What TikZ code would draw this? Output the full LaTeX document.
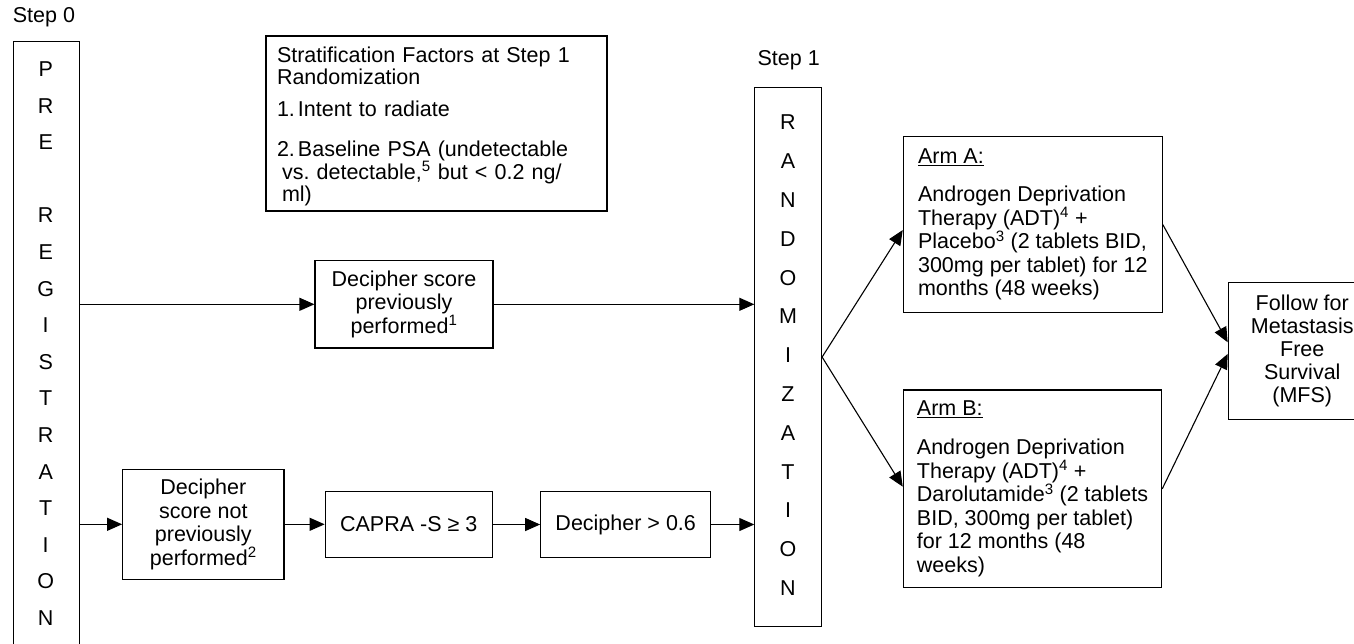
\documentclass[tikz,border=0pt]{standalone}
\usepackage{fontspec}
\setmainfont{Liberation Sans}
\usetikzlibrary{arrows.meta,calc}
\frenchspacing
\begin{document}
\begin{tikzpicture}[x=1pt,y=-1pt,
  base/.style={font=\fontsize{21.5}{23.5}\selectfont, inner sep=0pt},
  box/.style={base, draw, line width=1.1pt, align=center},
  conn/.style={line width=1.1pt, -{Triangle[length=15pt,width=13pt]}}]
\useasboundingbox (0,0) rectangle (1354,643);
\clip (0,0) rectangle (1354,643);

% Step 0 / pre-registration
\node[base, anchor=west] (s0) at (12.7,17.5) {Step 0};
\node[box, anchor=north west, minimum width=66pt, minimum height=630pt] (pre) at (12.7,40.7) {};
\node[base, align=center, font=\fontsize{21.5}{36.6}\selectfont] (pretxt) at (45.7,343.5)
  {P\\R\\E\\[36.6pt]R\\E\\G\\I\\S\\T\\R\\A\\T\\I\\O\\N};

% Stratification box
\node[box, align=left, font=\fontsize{21.5}{22}\selectfont, text width=319pt, inner xsep=11pt,
      minimum width=341pt, minimum height=175pt] (strat) at (436.5,123.5)
  {\rule{0pt}{20.9pt}Stratification Factors at Step 1\\
   Randomization\\[10pt]
   \makebox[21pt][l]{1.}Intent to radiate\\[18pt]
   \makebox[21pt][l]{2.}Baseline PSA (undetectable\\
   \hspace*{5pt}vs. detectable,\textsuperscript{5} but < 0.2 ng/\\
   \hspace*{5pt}ml)};

% Step 1 / randomization
\node[base] (s1) at (788.7,60) {Step 1};
\node[box, anchor=north west, minimum width=66.7pt, minimum height=538.4pt] (rand) at (754.3,87.3) {};
\node[base, align=center, font=\fontsize{21.5}{38.8}\selectfont] (randtxt) at (788,355.3)
  {R\\A\\N\\D\\O\\M\\I\\Z\\A\\T\\I\\O\\N};

% Decipher boxes
\node[box, minimum width=178pt, minimum height=87.3pt] (dp) at (404,304.3)
  {Decipher score\\previously\\performed\textsuperscript{1}};
\node[box, minimum width=161.3pt, minimum height=110pt] (dnp) at (203.3,524.3)
  {Decipher\\score not\\previously\\performed\textsuperscript{2}};
\node[box, minimum width=167pt, minimum height=65.6pt] (capra) at (408.7,524.5)
  {CAPRA -S ≥ 3};
\node[box, minimum width=170pt, minimum height=65.6pt] (dsix) at (625.7,524.5)
  {Decipher > 0.6};

% Arms
\node[box, align=left, minimum width=259pt, minimum height=176pt] (armA) at (1032.8,224.7)
  {\underline{Arm A:}\\[14.5pt]
   Androgen Deprivation\\
   Therapy (ADT)\textsuperscript{4} +\\
   Placebo\textsuperscript{3} (2 tablets BID,\\
   300mg per tablet) for 12\\
   months (48 weeks)};
\node[box, align=left, minimum width=258.4pt, minimum height=197.7pt] (armB) at (1032.5,488.8)
  {\underline{Arm B:}\\[15.5pt]
   Androgen Deprivation\\
   Therapy (ADT)\textsuperscript{4} +\\
   Darolutamide\textsuperscript{3} (2 tablets\\
   BID, 300mg per tablet)\\
   for 12 months (48\\
   weeks)};

% Follow
\node[box, font=\fontsize{21.5}{22.8}\selectfont, anchor=north west, minimum width=148pt, minimum height=137.3pt] (follow) at (1227.7,281.7)
  {Follow for\\Metastasis\\Free\\Survival\\(MFS)};

% Connectors
\draw[conn] (pre.east |- dp.west) -- (dp.west);
\draw[conn] (dp.east) -- (dp.east -| rand.west);
\draw[conn] (pre.east |- dnp.west) -- (dnp.west);
\draw[conn] (dnp.east) -- (dnp.east -| capra.west);
\draw[conn] (capra.east) -- (dsix.west);
\draw[conn] (dsix.east) -- (dsix.east -| rand.west);
\draw[conn] (rand.east) -- ([yshift=-5.3pt]armA.west);
\draw[conn] (rand.east) -- ([yshift=2.1pt]armB.west);
\draw[conn] (armA.east) -- ([yshift=8.6pt]follow.west);
\draw[conn] (armB.east) -- ([yshift=-3pt]follow.west);
\end{tikzpicture}
\end{document}
